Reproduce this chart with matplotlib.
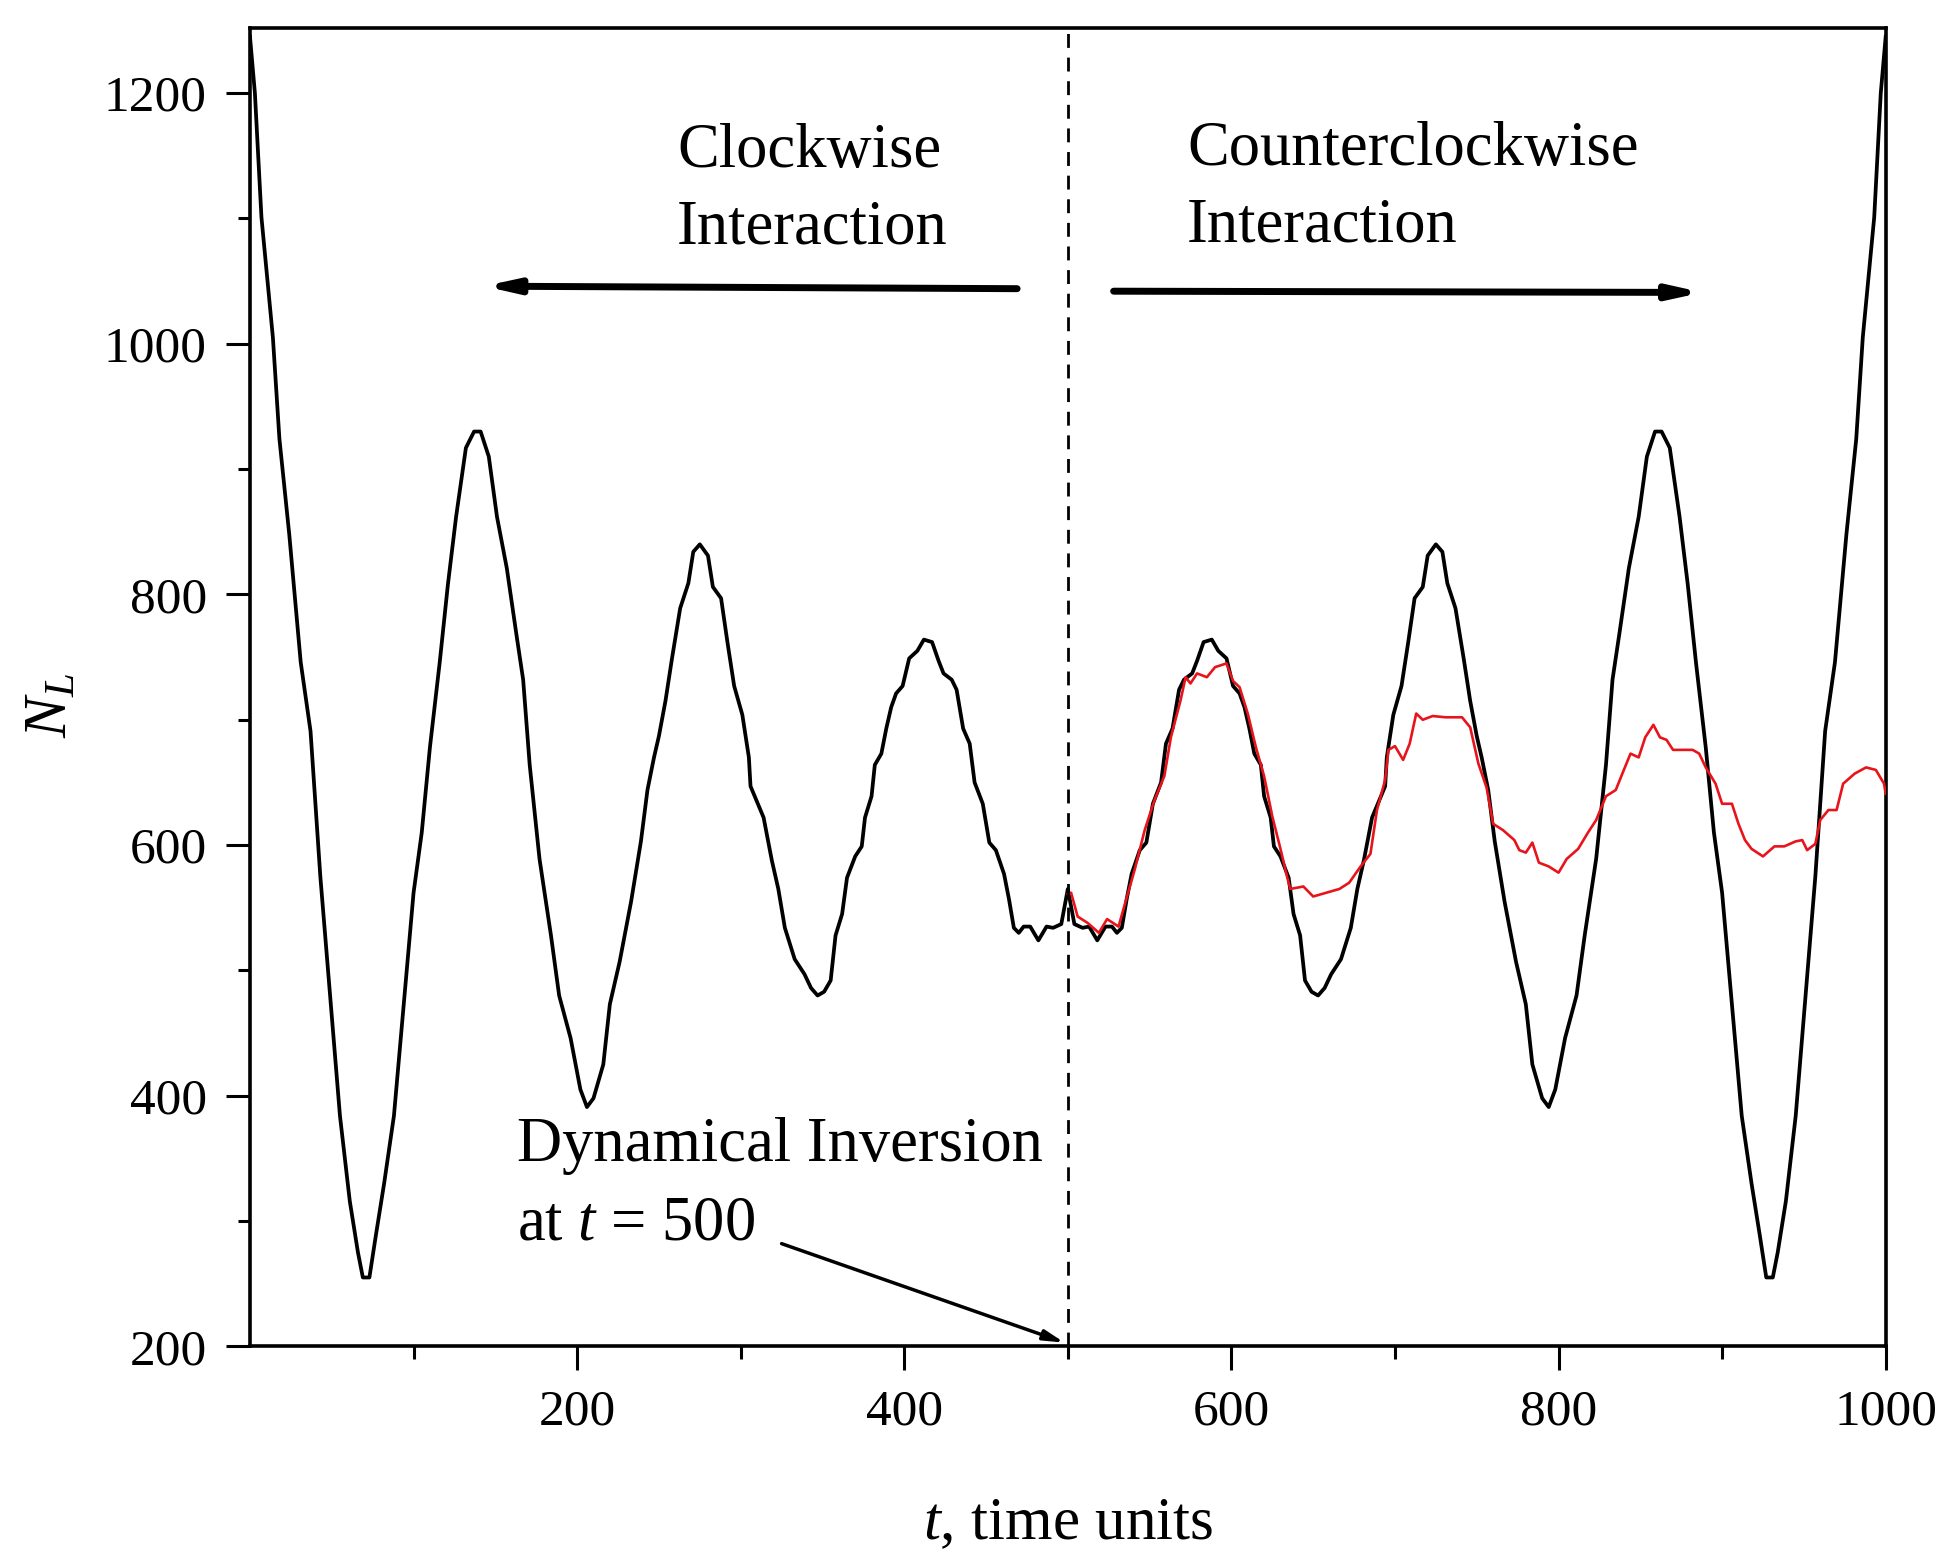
import matplotlib
matplotlib.use("Agg")
import matplotlib.pyplot as plt
from matplotlib.ticker import FixedLocator

plt.rcParams['font.family'] = ['Liberation Serif', 'DejaVu Serif']
plt.rcParams['mathtext.fontset'] = 'custom'
plt.rcParams['mathtext.it'] = 'Liberation Serif:italic'
plt.rcParams['mathtext.rm'] = 'Liberation Serif'

# ---- data ----
black_t = [0, 3, 7, 14, 18, 24, 31, 37, 43, 49, 55, 61, 66, 69, 73, 77, 82, 88, 94, 100,
           105, 110, 116, 121, 126, 132, 137, 141, 146, 151, 157, 163, 167, 171, 177, 184,
           189, 196, 202, 206, 210, 216, 220, 226, 233, 239, 243, 247, 250, 254, 258, 263,
           268, 271, 275, 280, 283, 288, 292, 296, 301, 305, 306, 314, 319, 323, 327, 333,
           339, 343, 347, 351, 355, 358, 362, 365, 370, 374, 376, 380, 382, 386, 389, 392,
           395, 399, 403, 408, 412, 417, 421, 424, 429, 432, 436, 440, 443, 448, 452, 456,
           461, 464, 467, 470, 473, 477, 482, 487, 491, 496, 500,
           504, 509, 513, 518, 523, 527, 530, 533, 536, 539, 544, 548, 552, 557, 560, 564,
           568, 571, 576, 579, 583, 588, 592, 597, 601, 605, 608, 611, 614, 618, 620, 624,
           626, 630, 635, 638, 642, 645, 649, 653, 657, 661, 667, 673, 677, 681, 686, 694,
           695, 699, 704, 708, 712, 717, 720, 725, 729, 732, 737, 742, 746, 750, 753, 757,
           761, 767, 774, 780, 784, 790, 794, 798, 804, 811, 816, 823, 829, 833, 837, 843,
           849, 854, 859, 863, 868, 874, 879, 884, 890, 895, 900, 906, 912, 918, 923, 927,
           931, 934, 939, 945, 951, 957, 963, 969, 976, 982, 986, 993, 997, 1000]
black_n = [1245, 1200, 1101, 1005, 924, 848, 746, 691, 575, 480, 384, 316, 275, 255, 255, 289,
           330, 384, 473, 562, 610, 678, 746, 808, 862, 917, 930, 930, 910, 862, 821, 767,
           732, 664, 589, 528, 480, 446, 405, 391, 398, 425, 473, 507, 555, 603, 644, 670,
           687, 715, 749, 789, 809, 834, 840, 831, 806, 797, 761, 727, 704, 670, 647, 622,
           588, 565, 534, 509, 497, 486, 480, 483, 492, 528, 545, 574, 591, 599, 622, 639,
           664, 673, 693, 710, 721, 727, 749, 755, 764, 762, 747, 737, 732, 724, 693, 681,
           650, 633, 602, 596, 577, 557, 534, 530, 535, 535, 524, 535, 534, 537, 565,
           537, 534, 535, 524, 535, 535, 530, 534, 557, 577, 596, 602, 633, 650, 681, 693,
           724, 732, 737, 747, 762, 764, 755, 749, 727, 721, 710, 693, 673, 664, 639, 622,
           599, 591, 574, 545, 528, 492, 483, 480, 486, 497, 509, 534, 565, 588, 622, 647,
           670, 704, 727, 761, 797, 806, 831, 840, 834, 809, 789, 749, 715, 687, 670, 644,
           603, 555, 507, 473, 425, 398, 391, 405, 446, 480, 528, 589, 664, 732, 767, 821,
           862, 910, 930, 930, 917, 862, 808, 746, 678, 610, 562, 473, 384, 330, 289, 255,
           255, 275, 316, 384, 480, 575, 691, 746, 848, 924, 1005, 1101, 1200, 1245]

red_t = [500, 502, 506, 512, 519, 524, 531, 534, 541, 547, 553, 559, 563, 569, 572, 575, 579,
         585, 590, 597, 601, 605, 610, 615, 620, 625, 630, 634, 636, 644, 650, 658, 666, 672,
         679, 685, 689, 694, 696, 700, 705, 709, 713, 717, 723, 731, 741, 746, 751, 756, 760,
         766, 773, 776, 780, 784, 788, 794, 800, 805, 812, 818, 823, 829, 835, 839, 844, 849,
         853, 858, 862, 866, 870, 876, 882, 886, 890, 896, 900, 906, 910, 914, 918, 925, 932,
         938, 945, 949, 952, 957, 960, 965, 970, 974, 981, 988, 994, 999, 1000]
red_n = [561, 562, 543, 538, 530, 541, 535, 549, 581, 612, 636, 655, 686, 716, 734, 729, 737,
         734, 742, 745, 731, 726, 705, 678, 655, 623, 597, 575, 565, 567, 559, 562, 565, 570,
         583, 593, 628, 652, 676, 679, 668, 681, 705, 700, 703, 702, 702, 694, 665, 646, 617,
         612, 604, 596, 594, 602, 586, 583, 578, 589, 597, 610, 620, 639, 644, 657, 673, 670,
         686, 696, 686, 684, 676, 676, 676, 673, 662, 649, 633, 633, 617, 604, 597, 591, 599,
         599, 603, 604, 596, 601, 620, 628, 628, 649, 657, 662, 660, 649, 641]

x_major = [200, 400, 600, 800, 1000]
x_labels = ['200', '400', '600', '800', '1000']
x_minor = [100, 300, 500, 700, 900]
y_major = [200, 400, 600, 800, 1000, 1200]
y_labels = ['200', '400', '600', '800', '1000', '1200']
y_minor = [300, 500, 700, 900, 1100]
inversion_t = 500

fig = plt.figure(figsize=(19.47, 15.56), dpi=100)
ax = fig.add_axes([0.1284, 0.1347, 0.8401, 0.8473])

ax.plot(black_t, black_n, color='black', lw=2.7, zorder=3)
ax.plot(red_t, red_n, color='#e8141c', lw=1.9, zorder=4)
ax.axvline(inversion_t, color='black', lw=2.0, ls=(0, (5, 3.5)), zorder=5)

ax.set_xlim(0, 1000)
ax.set_ylim(200, 1252)

ax.xaxis.set_major_locator(FixedLocator(x_major))
ax.set_xticklabels(x_labels)
ax.xaxis.set_minor_locator(FixedLocator(x_minor))
ax.yaxis.set_major_locator(FixedLocator(y_major))
ax.set_yticklabels(y_labels)
ax.yaxis.set_minor_locator(FixedLocator(y_minor))

ax.tick_params(which='major', direction='out', length=17, width=2.2, labelsize=37, pad=14)
ax.tick_params(which='minor', direction='out', length=9, width=2.2)
for s in ax.spines.values():
    s.set_linewidth(2.6)

ax.set_xlabel(r'$\mathit{t}$, time units', fontsize=44, labelpad=44)
ax.set_ylabel(r'$\mathit{N}_{\mathit{L}}$', fontsize=44)
ax.yaxis.set_label_coords(-0.104, 0.486)

txt_kw = dict(fontsize=45, ha='left', va='center', color='black')
ax.text(261, 1153, 'Clockwise', **txt_kw)
ax.text(261, 1092, 'Interaction', **txt_kw)
ax.text(573, 1155, 'Counterclockwise', **txt_kw)
ax.text(573, 1094, 'Interaction', **txt_kw)
ax.text(163, 360, 'Dynamical Inversion', **txt_kw)
ax.text(163, 297, r'at $\mathit{t}$ = 500', **txt_kw)

ax.annotate('', xy=(143, 1046), xytext=(469, 1044),
            arrowprops=dict(arrowstyle='-|>,head_length=1.8,head_width=0.4',
                            color='black', lw=5, shrinkA=0, shrinkB=0))
ax.annotate('', xy=(888, 1041), xytext=(528, 1042),
            arrowprops=dict(arrowstyle='-|>,head_length=1.8,head_width=0.4',
                            color='black', lw=5, shrinkA=0, shrinkB=0))
ax.annotate('', xy=(498, 203), xytext=(325, 282),
            arrowprops=dict(arrowstyle='-|>,head_length=1.2,head_width=0.3',
                            color='black', lw=2.5, shrinkA=0, shrinkB=0))

fig.savefig('out.png', dpi=100)
